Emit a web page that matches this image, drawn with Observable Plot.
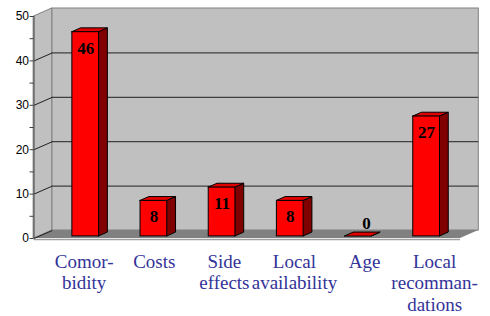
<!DOCTYPE html>
<html>
<head>
<meta charset="utf-8">
<script src="https://cdn.jsdelivr.net/npm/d3@7"></script>
<script src="https://cdn.jsdelivr.net/npm/@observablehq/plot@0.6"></script>
<style>
  html, body { margin: 0; padding: 0; background: #ffffff; }
</style>
</head>
<body>
<div id="chart"></div>
<script>
// ---- data ----
const categories = ["Comor-\nbidity", "Costs", "Side\neffects", "Local\navailability", "Age", "Local\nrecomman-\ndations"];
const values = [46, 8, 11, 8, 0, 27];
const yTicks = [0, 10, 20, 30, 40, 50];
const yMinorTicks = [5, 15, 25, 35, 45];

// ---- 3D layout constants (in scale units) ----
const DX = 0.268;      // wall depth along x (category units)
const DY = 1.8;        // wall depth along y (value units)
const dF = 0.26, dB = 0.74; // bar front/back depth fractions
const HW = 0.196;      // half bar width (category units)
const X_LEFT = -0.189, X_RIGHT = 6.067;
const Y_MAX = 50;

const bars = values.map((v, i) => ({i, v, c: i + 0.5}));
const front = bars.map(b => ({i: b.i, x1: b.c - HW + dF * DX, x2: b.c + HW + dF * DX, y1: dF * DY, y2: b.v + dF * DY}));
const side = bars.flatMap(b => [dF, dB].map(d => ({i: b.i, x: b.c + HW + d * DX, y1: d * DY, y2: b.v + d * DY})));
const topFace = bars.flatMap(b => [dF, dB].map(d => ({i: b.i, y: b.v + d * DY, x1: b.c - HW + d * DX, x2: b.c + HW + d * DX})));
const labels = categories.map((t, i) => ({t, x: 0.547 + 1.028 * i}));
const grid = yTicks.filter(v => v > 0 && v < Y_MAX);

const serif = "'Liberation Serif', 'Times New Roman', serif";
const sans = "'Liberation Sans', Arial, sans-serif";

const chart = Plot.plot({
  width: 490,
  height: 316,
  marginLeft: 33.5,
  marginRight: 11.7,
  marginTop: 16,
  marginBottom: 78,
  style: {background: "#ffffff", fontFamily: sans},
  x: {type: "linear", domain: [X_LEFT, X_RIGHT + DX], axis: null},
  y: {type: "linear", domain: [0, Y_MAX]},
  marks: [
    // back wall
    Plot.rect([0], {x1: X_LEFT + DX, x2: X_RIGHT + DX, y1: DY, y2: Y_MAX + DY, fill: "#c0c0c0", stroke: "#808080", strokeWidth: 1}),
    // left wall
    Plot.areaY([{x: X_LEFT, y1: 0, y2: Y_MAX}, {x: X_LEFT + DX, y1: DY, y2: Y_MAX + DY}], {x: "x", y1: "y1", y2: "y2", fill: "#c0c0c0", stroke: "#808080", strokeWidth: 1}),
    // floor
    Plot.areaX([{y: 0, x1: X_LEFT, x2: X_RIGHT}, {y: DY, x1: X_LEFT + DX, x2: X_RIGHT + DX}], {y: "y", x1: "x1", x2: "x2", fill: "#808080"}),
    Plot.ruleY([0], {x1: X_LEFT, x2: X_RIGHT, stroke: "#a0a0a0", strokeWidth: 1.5, dy: 1}),
    // gridlines on back wall
    Plot.ruleY(grid.map(v => v + DY), {x1: X_LEFT + DX, x2: X_RIGHT + DX, stroke: "#202020", strokeWidth: 1}),
    // gridlines on left wall
    Plot.link(yTicks.filter(v => v < Y_MAX), {x1: X_LEFT, x2: X_LEFT + DX, y1: d => d, y2: d => d + DY, stroke: "#202020", strokeWidth: 1}),
    // y axis
    Plot.ruleX([X_LEFT], {y1: 0, y2: Y_MAX, stroke: "#404040", strokeWidth: 1}),
    Plot.axisY(yTicks, {tickSize: 4, tickPadding: 1, fontSize: 12, fontFamily: sans, fill: "#000", stroke: "#404040"}),
    Plot.axisY(yMinorTicks, {tickSize: 4, tickFormat: () => "", stroke: "#404040"}),
    // bars
    Plot.areaY(side, {x: "x", y1: "y1", y2: "y2", z: "i", fill: "#800000", stroke: "#000", strokeWidth: 1}),
    Plot.areaX(topFace, {y: "y", x1: "x1", x2: "x2", z: "i", fill: "#e00000", stroke: "#000", strokeWidth: 1}),
    Plot.rect(front, {x1: "x1", x2: "x2", y1: "y1", y2: "y2", fill: "#ff0000", stroke: "#000", strokeWidth: 1}),
    // data labels
    Plot.text(bars.filter(b => b.v > 2), {x: b => b.c + dF * DX, y: b => b.v + dF * DY, text: b => String(b.v), dy: 16, fontSize: 17, fontWeight: "bold", fontFamily: serif, fill: "#000"}),
    Plot.text(bars.filter(b => b.v <= 2), {x: b => b.c + dF * DX, y: b => b.v + dF * DY, text: b => String(b.v), dy: -13, dx: 8, fontSize: 17, fontWeight: "bold", fontFamily: serif, fill: "#000"}),
    // category labels
    Plot.text(labels, {x: "x", text: "t", frameAnchor: "bottom", dy: 14, lineAnchor: "top", lineHeight: 1.13, fontSize: 19, fontFamily: serif, fill: "#333399"})
  ]
});
document.getElementById("chart").appendChild(chart);
</script>
</body>
</html>
